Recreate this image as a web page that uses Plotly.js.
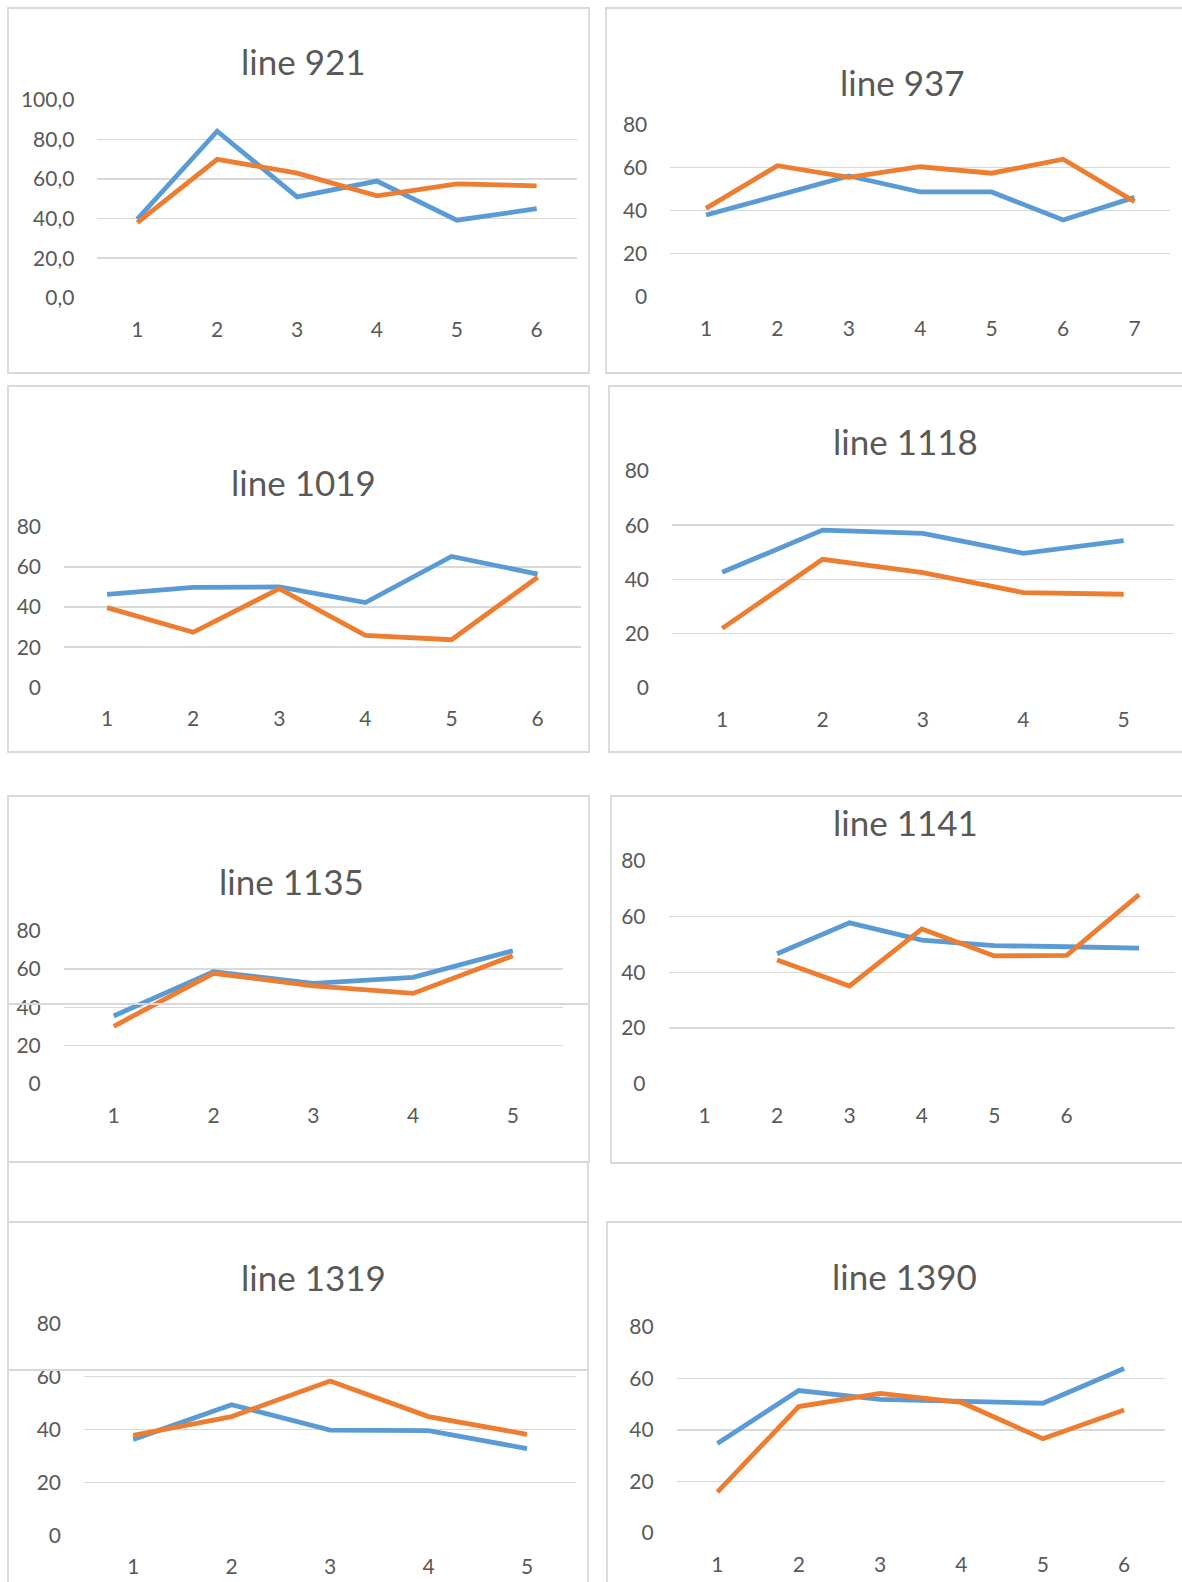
<!DOCTYPE html>
<html><head><meta charset="utf-8">
<script src="https://cdn.plot.ly/plotly-3.0.1.min.js"></script>
<style>html,body{margin:0;padding:0;background:#fff;} #chart{width:1182px;height:1582px;}</style>
</head><body><div id="chart"></div>
<script>
// ---------- data ----------
const cats921 = [1, 2, 3, 4, 5, 6];
const labels921 = ['1', '2', '3', '4', '5', '6'];
const blue921 = [39.8, 84.2, 51.0, 59.0, 39.2, 45.0];
const orange921 = [38.0, 70.0, 63.0, 51.5, 57.6, 56.6];

const cats937 = [1, 2, 3, 4, 5, 6, 7];
const labels937 = ['1', '2', '3', '4', '5', '6', '7'];
const blue937 = [37.9, 47.2, 56.0, 48.6, 48.6, 35.6, 46.1];
const orange937 = [41.0, 60.8, 55.4, 60.3, 57.3, 63.8, 44.1];

const cats1019 = [1, 2, 3, 4, 5, 6];
const labels1019 = ['1', '2', '3', '4', '5', '6'];
const blue1019 = [46.3, 49.8, 50.0, 42.2, 65.2, 56.4];
const orange1019 = [39.7, 27.4, 49.1, 25.9, 23.7, 54.8];

const cats1118 = [1, 2, 3, 4, 5];
const labels1118 = ['1', '2', '3', '4', '5'];
const blue1118 = [42.6, 58.2, 57.0, 49.6, 54.3];
const orange1118 = [21.9, 47.4, 42.5, 35.1, 34.5];

const cats1135 = [1, 2, 3, 4, 5];
const labels1135 = ['1', '2', '3', '4', '5'];
const blue1135 = [35.4, 58.6, 52.5, 55.6, 69.5];
const orange1135 = [30.0, 57.7, 51.2, 47.2, 66.9];

const cats1141 = [1, 2, 3, 4, 5, 6, 7];
const labels1141 = ['1', '2', '3', '4', '5', '6', ''];
const blue1141 = [null, 46.7, 57.8, 51.6, 49.6, 49.2, 48.7];
const orange1141 = [null, 44.4, 35.1, 55.6, 45.9, 46.1, 67.9];

const cats1319 = [1, 2, 3, 4, 5];
const labels1319 = ['1', '2', '3', '4', '5'];
const blue1319 = [36.2, 49.3, 39.7, 39.5, 32.7];
const orange1319 = [37.7, 44.8, 58.2, 44.8, 38.1];

const cats1390 = [1, 2, 3, 4, 5, 6];
const labels1390 = ['1', '2', '3', '4', '5', '6'];
const blue1390 = [34.8, 55.3, 51.9, 51.1, 50.4, 63.9];
const orange1390 = [15.9, 49.1, 54.2, 50.7, 36.6, 47.8];

// ---------- styling / geometry ----------
const W = 1182, H = 1582;
const BLUE = '#5B9BD5', ORANGE = '#ED7D31', GRID = '#D9D9D9', TEXT = '#595959', FRAME = '#D9D9D9';
const FONT = 'Lato, "Noto Sans", sans-serif';
const TICK_SIZE = 21, TITLE_SIZE = 35;

const panels = [
  {title: 'line 921',  cats: cats921,  labels: labels921,  blue: blue921,  orange: orange921,  ymax: 100, fmt: '.1f', box: [97.4, 576.6, 100.0, 297.7],  t: [304, 61]},
  {title: 'line 937',  cats: cats937,  labels: labels937,  blue: blue937,  orange: orange937,  ymax: 80,  fmt: 'd',   box: [670.3, 1170.2, 124.3, 296.7], t: [902, 82]},
  {title: 'line 1019', cats: cats1019, labels: labels1019, blue: blue1019, orange: orange1019, ymax: 80,  fmt: 'd',   box: [64.0, 580.7, 526.7, 687.3],  t: [304, 482]},
  {title: 'line 1118', cats: cats1118, labels: labels1118, blue: blue1118, orange: orange1118, ymax: 80,  fmt: 'd',   box: [672.0, 1173.9, 471.0, 687.7], t: [905, 441]},
  {title: 'line 1135', cats: cats1135, labels: labels1135, blue: blue1135, orange: orange1135, ymax: 80,  fmt: 'd',   box: [63.8, 562.7, 930.7, 1083.7], t: [291, 881]},
  {title: 'line 1141', cats: cats1141, labels: labels1141, blue: blue1141, orange: orange1141, ymax: 80,  fmt: 'd',   box: [668.5, 1175.3, 861.0, 1083.7], t: [905, 822]},
  {title: 'line 1319', cats: cats1319, labels: labels1319, blue: blue1319, orange: orange1319, ymax: 80,  fmt: 'd',   box: [84.0, 576.2, 1323.3, 1535.3], t: [313, 1277]},
  {title: 'line 1390', cats: cats1390, labels: labels1390, blue: blue1390, orange: orange1390, ymax: 80,  fmt: 'd',   box: [676.7, 1164.8, 1327.0, 1533.0], t: [904, 1276]}
];

const px = v => v / W;
const py = v => 1 - v / H;

const traces = [];
const layout = {
  width: W, height: H,
  margin: {l: 0, r: 0, t: 0, b: 0},
  paper_bgcolor: '#ffffff', plot_bgcolor: 'rgba(0,0,0,0)',
  showlegend: false,
  separators: ',.',
  font: {family: FONT, color: TEXT},
  annotations: [], shapes: []
};

panels.forEach((p, i) => {
  const k = i === 0 ? '' : String(i + 1);
  traces.push({x: p.cats, y: p.blue, xaxis: 'x' + k, yaxis: 'y' + k, type: 'scatter', mode: 'lines',
    line: {color: BLUE, width: 4.8}, connectgaps: false, hoverinfo: 'skip'});
  traces.push({x: p.cats, y: p.orange, xaxis: 'x' + k, yaxis: 'y' + k, type: 'scatter', mode: 'lines',
    line: {color: ORANGE, width: 4.8}, connectgaps: false, hoverinfo: 'skip'});
  layout['xaxis' + k] = {
    domain: [px(p.box[0]), px(p.box[1])], anchor: 'y' + k,
    range: [0.5, p.cats.length + 0.5], tickmode: 'array', tickvals: p.cats, ticktext: p.labels,
    showgrid: false, zeroline: false, showline: false, ticks: '',
    tickfont: {family: FONT, size: TICK_SIZE, color: TEXT}, ticklabelstandoff: 17, fixedrange: true
  };
  layout['yaxis' + k] = {
    domain: [py(p.box[3]), py(p.box[2])], anchor: 'x' + k,
    range: [0, p.ymax], tick0: 0, dtick: 20, tickformat: p.fmt,
    showgrid: true, gridcolor: GRID, gridwidth: 1.4, zeroline: false, showline: false, ticks: '',
    tickfont: {family: FONT, size: TICK_SIZE, color: TEXT}, ticklabelstandoff: 22, fixedrange: true
  };
  layout.annotations.push({
    text: p.title, xref: 'paper', yref: 'paper', x: px(p.t[0]), y: py(p.t[1]),
    xanchor: 'center', yanchor: 'middle', showarrow: false,
    font: {family: FONT, size: TITLE_SIZE, color: TEXT}
  });
});

function rect(x0, y0, x1, y1) {
  layout.shapes.push({type: 'rect', xref: 'paper', yref: 'paper', x0: px(x0), x1: px(x1), y0: py(y1), y1: py(y0),
    line: {color: FRAME, width: 1.8}, fillcolor: 'rgba(0,0,0,0)', layer: 'below'});
}
function hline(x0, x1, y) {
  layout.shapes.push({type: 'line', xref: 'paper', yref: 'paper', x0: px(x0), x1: px(x1), y0: py(y), y1: py(y),
    line: {color: FRAME, width: 1.8}, layer: 'above'});
}
rect(8, 8, 589, 373);
rect(606, 8, 1200, 373);
rect(8, 386, 589, 752);
rect(609, 386, 1200, 752);
rect(8, 796, 589, 1162);
rect(611, 796, 1200, 1163);
rect(8, 1162, 588, 1600);
rect(607, 1222, 1200, 1600);
hline(8, 589, 1004);
hline(8, 588, 1222);
hline(8, 588, 1370);

Plotly.newPlot('chart', traces, layout, {staticPlot: true, displayModeBar: false});
</script>
</body></html>
